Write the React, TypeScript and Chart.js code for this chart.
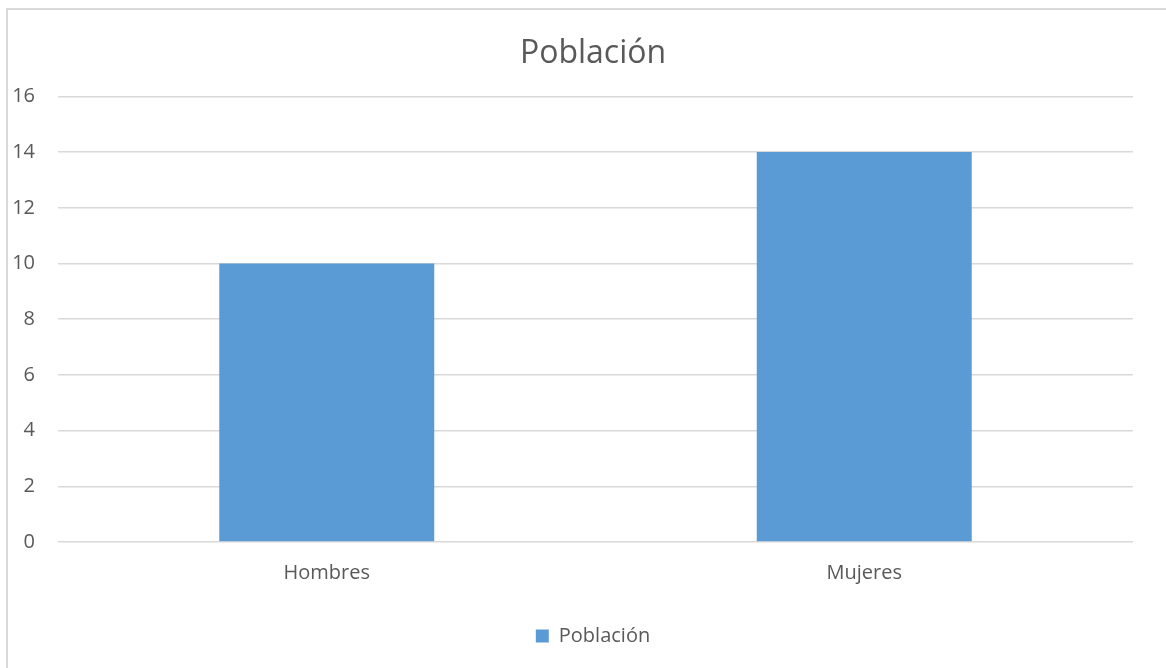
import React, { useEffect, useRef } from "react";
import { Chart, registerables } from "chart.js";

Chart.register(...registerables);

const categories = ["Hombres", "Mujeres"];
const seriesName = "Población";
const values = [10, 14];
const yMin = 0;
const yMax = 16;
const yStep = 2;

const FONT = "'Open Sans', 'Noto Sans', sans-serif";
const TEXT = "#595959";
const GRID = "#d9d9d9";
const BAR = "#5b9bd5";

export default function App() {
  const ref = useRef<HTMLCanvasElement | null>(null);

  useEffect(() => {
    if (!ref.current) return;
    const chart = new Chart(ref.current, {
      type: "bar",
      data: {
        labels: categories,
        datasets: [
          {
            label: seriesName,
            data: values,
            backgroundColor: BAR,
            borderWidth: 0,
            barPercentage: 0.4,
            categoryPercentage: 1,
            yAxisID: "y",
          },
        ],
      },
      options: {
        responsive: false,
        animation: false,
        devicePixelRatio: 1,
        layout: { padding: { left: 0, right: 0, top: 0, bottom: 12 } },
        plugins: {
          title: {
            display: true,
            text: seriesName,
            color: TEXT,
            font: { family: FONT, size: 32, weight: "normal" },
            padding: { top: 35, bottom: 23 },
          },
          legend: {
            display: true,
            position: "bottom",
            labels: {
              color: TEXT,
              font: { family: FONT, size: 20 },
              boxWidth: 13,
              boxHeight: 13,
              padding: 10,
            },
          },
          tooltip: { enabled: false },
        },
        scales: {
          x: {
            grid: { display: false, drawTicks: false },
            border: { display: false },
            ticks: { color: TEXT, font: { family: FONT, size: 20 }, padding: 19 },
            afterFit: (s: any) => {
              s.height = 74;
            },
          },
          y: {
            position: "left",
            min: yMin,
            max: yMax,
            grid: { color: GRID, lineWidth: 1.5, drawTicks: false },
            border: { display: false },
            ticks: {
              stepSize: yStep,
              color: TEXT,
              font: { family: FONT, size: 20 },
              padding: 23,
            },
            afterFit: (s: any) => {
              s.width = 58;
            },
          },
          ySpacer: {
            type: "linear",
            position: "right",
            display: true,
            grid: { display: false, drawTicks: false },
            border: { display: false },
            ticks: { display: false },
            afterFit: (s: any) => {
              s.width = 53;
            },
          },
        },
      },
    });
    return () => chart.destroy();
  }, []);

  return (
    <>
      <div
        style={{
          position: "fixed",
          left: 6,
          top: 8,
          width: 1200,
          height: 700,
          borderLeft: "2px solid #d9d9d9",
          borderTop: "2px solid #d9d9d9",
          boxSizing: "border-box",
        }}
      />
      <canvas
        ref={ref}
        width={1186}
        height={668}
        style={{ position: "fixed", left: 0, top: 0, width: 1186, height: 668 }}
      />
    </>
  );
}
